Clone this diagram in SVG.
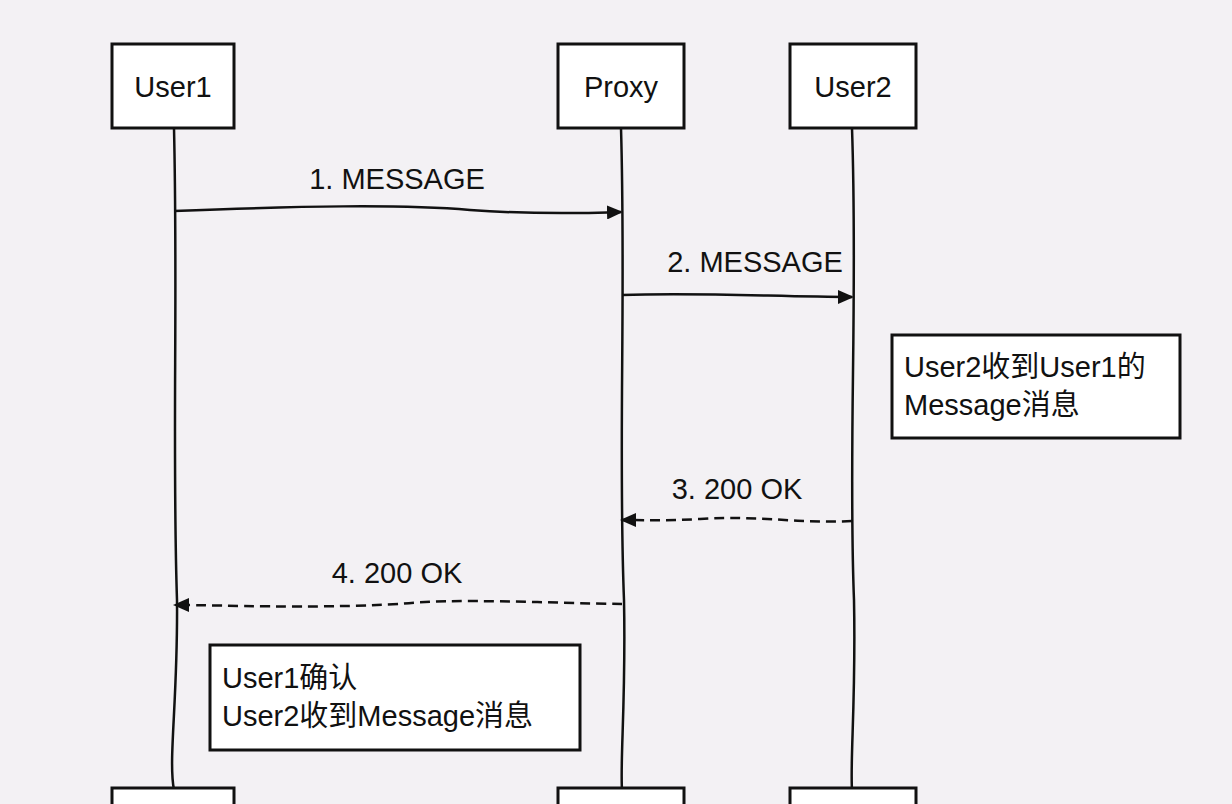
<svg xmlns="http://www.w3.org/2000/svg" width="1232" height="804" viewBox="0 0 1232 804">
<style>
.box{fill:#fff;stroke:#111;stroke-width:3}
.life{fill:none;stroke:#111;stroke-width:2.5}
.msg{fill:none;stroke:#111;stroke-width:2.5}
.dash{stroke-dasharray:10 6}
text{font-family:"Liberation Sans","Noto Sans CJK SC",sans-serif;font-size:29px;fill:#111}
.c{text-anchor:middle}
</style>
<defs>
<marker id="ah" markerWidth="16" markerHeight="14" refX="14" refY="7" orient="auto" markerUnits="userSpaceOnUse">
<path d="M0,0 L16,7 L0,14 Z" fill="#111"/>
</marker>
</defs>
<rect width="1232" height="804" fill="#f3f1f4"/>
<g id="lifelines">
<path class="life" d="M174,128 C178,300 172,450 177,600 C178,700 168,760 174,790"/>
<path class="life" d="M621,128 C626,300 618,450 624,600 C626,700 620,760 622,790"/>
<path class="life" d="M852,128 C858,300 848,450 854,600 C856,700 850,760 852,790"/>
</g>
<g id="User1"><rect class="box" x="112" y="44" width="122" height="84"/><text class="c" x="173" y="97">User1</text></g>
<g id="Proxy"><rect class="box" x="558" y="44" width="126" height="84"/><text class="c" x="621" y="97">Proxy</text></g>
<g id="User2"><rect class="box" x="790" y="44" width="126" height="84"/><text class="c" x="853" y="97">User2</text></g>
<g id="User1b"><rect class="box" x="112" y="788" width="122" height="40"/></g>
<g id="Proxyb"><rect class="box" x="558" y="788" width="126" height="40"/></g>
<g id="User2b"><rect class="box" x="790" y="788" width="126" height="40"/></g>
<g id="connectors">
<path class="msg" marker-end="url(#ah)" d="M174,211 C300,206 400,204 470,210 C540,215 590,213 621,212"/>
<path class="msg" marker-end="url(#ah)" d="M622,295 C700,292 780,297 852,297"/>
<path class="msg dash" marker-end="url(#ah)" d="M852,521 C800,524 760,515 700,519 C660,521 640,520 622,520"/>
<path class="msg dash" marker-end="url(#ah)" d="M622,604 C550,603 450,598 400,604 C300,609 230,605 175,605"/>
</g>
<g id="labels">
<text class="c" x="397" y="189">1. MESSAGE</text>
<text class="c" x="755" y="272">2. MESSAGE</text>
<text class="c" x="737" y="499">3. 200 OK</text>
<text class="c" x="397" y="583">4. 200 OK</text>
</g>
<g id="note1"><rect class="box" x="892" y="335" width="288" height="103" stroke-width="2"/><text x="904" y="377">User2收到User1的</text><text x="904" y="415">Message消息</text></g>
<g id="note2"><rect class="box" x="210" y="645" width="370" height="105" stroke-width="2"/><text x="222" y="688">User1确认</text><text x="222" y="726">User2收到Message消息</text></g>
</svg>
